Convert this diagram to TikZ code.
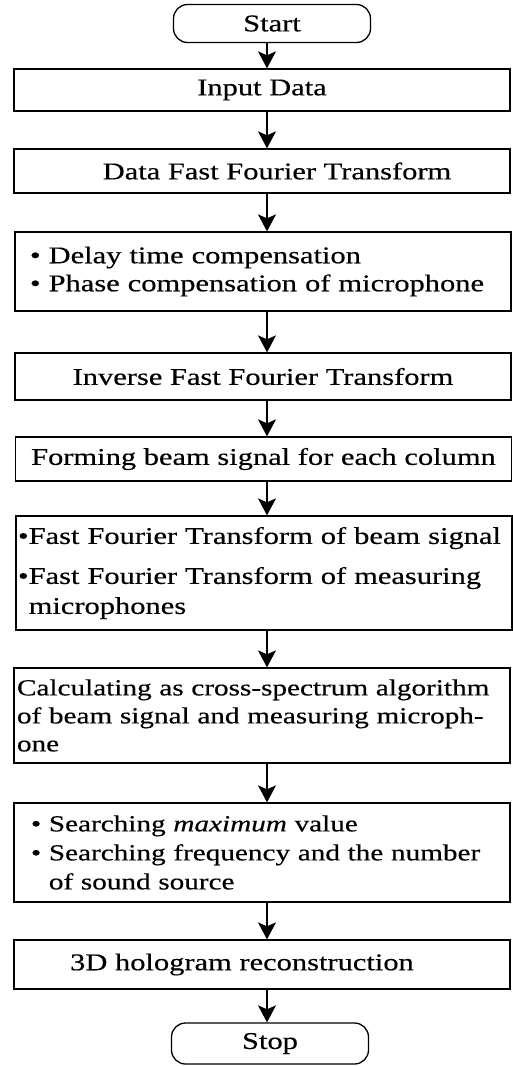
\documentclass[tikz,border=0pt]{standalone}
\usepackage{fontspec}
\setmainfont{Liberation Serif}[FakeStretch=1.27, FakeBold=0.4]
\usetikzlibrary{arrows.meta}

\begin{document}
\begin{tikzpicture}[x=1pt, y=-1pt,
  font=\fontsize{24}{28}\selectfont,
  proc/.style={draw, line width=1.3pt, minimum width=496pt, inner sep=0pt, align=center},
  lista/.style={proc, align=left, text width=#1},
  term/.style={draw, line width=1.3pt, rounded corners=14pt, minimum width=197pt, minimum height=38pt, inner sep=0pt},
  flow/.style={-{Stealth[length=17pt, width=18pt, inset=4pt]}, line width=1.2pt}]
  \useasboundingbox (0,0) rectangle (513,1066);
  \coordinate (eje) at (267,0);
  \node[term] (start) at (272,23.5) {Start};
  \node[proc, minimum height=42pt] (input) at (262,90) {Input Data};
  \node[proc, minimum height=44pt] (fft) at (262,171) {\hspace*{30pt}Data Fast Fourier Transform};
  \node[lista=466pt, minimum height=79pt] (comp) at (263,271.5)
    {\mbox{\textbullet\ Delay time compensation}\\
     \mbox{\textbullet\ Phase compensation of microphone}};
  \node[proc, minimum height=47pt] (ifft) at (263,376.5) {Inverse Fast Fourier Transform};
  \node[proc, minimum height=44pt] (beam) at (263.5,459) {Forming beam signal for each column};
  \node[lista=492pt, minimum height=114pt] (ffts) at (264,573)
    {\mbox{\textbullet Fast Fourier Transform of beam signal}\\[12pt]
     \mbox{\textbullet Fast Fourier Transform of measuring}\\[2pt]
     \mbox{\phantom{\textbullet}microphones}};
  \node[lista=490pt, minimum height=95pt, font=\fontsize{23}{28}\selectfont] (cross) at (262,715.5)
    {\mbox{Calculating as cross-spectrum algorithm}\\
     \mbox{of beam signal and measuring microph-}\\
     \mbox{one}};
  \node[lista=462pt, minimum height=99pt, font=\fontsize{23}{29}\selectfont] (search) at (262,852.5)
    {\mbox{\textbullet\ Searching \textit{maximum} value}\\
     \mbox{\textbullet\ Searching frequency and the number}\\
     \mbox{\phantom{\textbullet\ }of sound source}};
  \node[proc, minimum height=49pt] (holo) at (262,964.5) {\hspace*{-40pt}3D hologram reconstruction};
  \node[term, minimum height=41pt] (stop) at (270,1043.5) {Stop};
  % flechas
  \draw[flow] (start.south -| eje) -- (input.north -| eje);
  \draw[flow] (input.south -| eje) -- (fft.north -| eje);
  \draw[flow] (fft.south -| eje) -- (comp.north -| eje);
  \draw[flow] (comp.south -| eje) -- (ifft.north -| eje);
  \draw[flow] (ifft.south -| eje) -- (beam.north -| eje);
  \draw[flow] (beam.south -| eje) -- (ffts.north -| eje);
  \draw[flow] (ffts.south -| eje) -- (cross.north -| eje);
  \draw[flow] (cross.south -| eje) -- (search.north -| eje);
  \draw[flow] (search.south -| eje) -- (holo.north -| eje);
  \draw[flow] (holo.south -| eje) -- (stop.north -| eje);
\end{tikzpicture}
\end{document}
